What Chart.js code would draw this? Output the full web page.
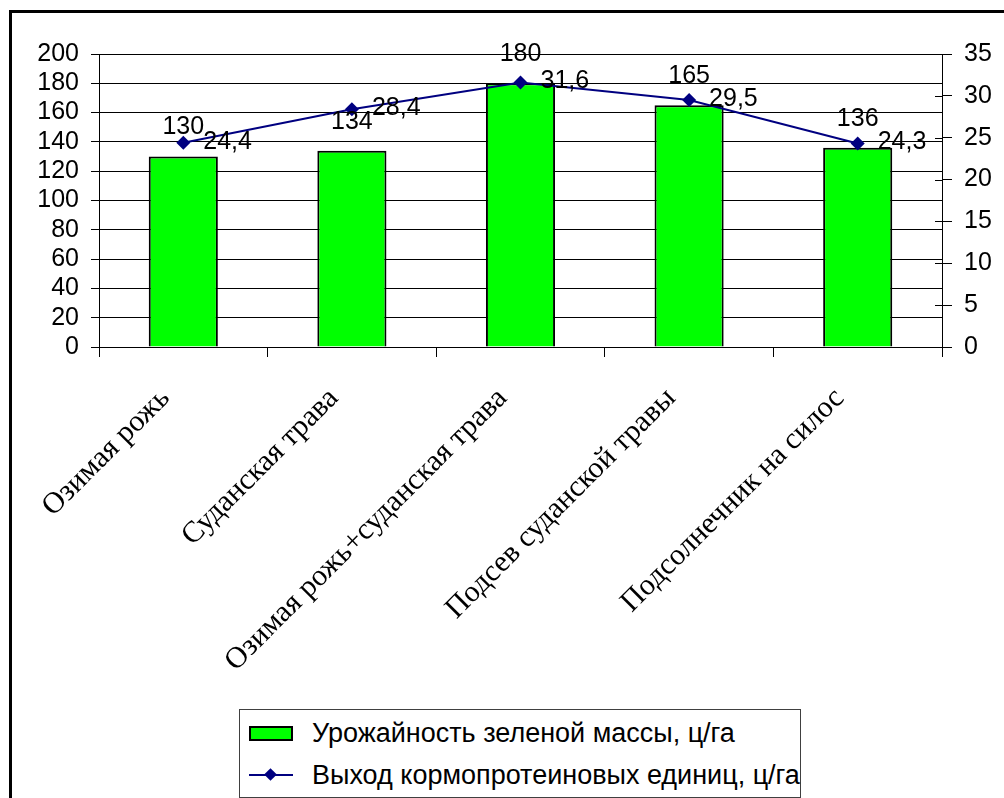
<!DOCTYPE html>
<html>
<head>
<meta charset="utf-8">
<script src="https://cdn.jsdelivr.net/npm/chart.js@4/dist/chart.umd.min.js"></script>
<style>
  html, body { margin: 0; padding: 0; background: #fff; width: 1004px; height: 798px; overflow: hidden; }
  #frame { position: absolute; left: 9px; top: 10px; width: 1100px; height: 900px; border: 3px solid #000; box-sizing: border-box; }
  #main-chart { position: absolute; left: 0; top: 0; }
  #legend { position: absolute; left: 239px; top: 709px; width: 562px; height: 89px; border: 1px solid #404040; box-sizing: border-box; background: #fff;
            font-family: 'Liberation Sans', Arial, sans-serif; font-size: 27px; color: #000; }
  .legend-item { position: absolute; left: 9px; display: flex; align-items: center; height: 30px; }
  .swatch-bar { width: 40px; height: 11px; background: #00ff00; border: 2px solid #000; }
  .swatch-line { position: relative; width: 44px; height: 2px; background: #000080; }
  .swatch-line::after { content: ''; position: absolute; left: 17px; top: -4px; width: 9px; height: 9px; background: #000080; transform: rotate(45deg); }
  .legend-text { margin-left: 19px; white-space: nowrap; }
</style>
</head>
<body>
<div id="frame"></div>
<canvas id="main-chart" width="1004" height="798"></canvas>
<div id="legend">
  <div class="legend-item" style="top:8px"><div class="swatch-bar"></div><span class="legend-text">Урожайность зеленой массы, ц/га</span></div>
  <div class="legend-item" style="top:50px"><div class="swatch-line"></div><span class="legend-text">Выход кормопротеиновых единиц, ц/га</span></div>
</div>
<script>
// Данные графика
const categories = [
  'Озимая рожь',
  'Суданская трава',
  'Озимая рожь+суданская трава',
  'Подсев суданской травы',
  'Подсолнечник на силос',
];
const yieldValues = [130, 134, 180, 165, 136];
const proteinValues = [24.4, 28.4, 31.6, 29.5, 24.3];
const yieldAxisMax = 200;
const proteinAxisMax = 35;

const sansFont = "'Liberation Sans', Arial, sans-serif";
const serifFont = "'Liberation Serif', 'Times New Roman', serif";

function formatComma(v) {
  return Number.isInteger(v) ? String(v) : v.toFixed(1).replace('.', ',');
}

// подписи значений + внутренние засечки правой оси
const valueLabels = {
  id: 'valueLabels',
  beforeDatasetsDraw(chart) {
    const y1 = chart.scales.y1;
    const ctx = chart.ctx;
    ctx.save();
    ctx.strokeStyle = '#000';
    ctx.lineWidth = 1;
    y1.ticks.forEach((t) => {
      const py = Math.round(y1.getPixelForValue(t.value)) + 0.5;
      ctx.beginPath();
      ctx.moveTo(y1.left - 7, py);
      ctx.lineTo(y1.left, py);
      ctx.stroke();
    });
    ctx.restore();
  },
  afterDatasetsDraw(chart) {
    const ctx = chart.ctx;
    ctx.save();
    ctx.font = `25px ${sansFont}`;
    ctx.fillStyle = '#000';
    ctx.textBaseline = 'middle';
    chart.getDatasetMeta(1).data.forEach((bar, i) => {
      ctx.textAlign = 'center';
      ctx.fillText(formatComma(yieldValues[i]), bar.x, bar.y - 29);
    });
    chart.getDatasetMeta(0).data.forEach((pt, i) => {
      ctx.textAlign = 'left';
      ctx.fillText(formatComma(proteinValues[i]), pt.x + 20, pt.y - 1);
    });
    ctx.restore();
  },
};

const ctx = document.getElementById('main-chart').getContext('2d');
new Chart(ctx, {
  type: 'bar',
  data: {
    labels: categories,
    datasets: [
      {
        type: 'line',
        label: 'Выход кормопротеиновых единиц, ц/га',
        data: proteinValues,
        yAxisID: 'y1',
        borderColor: '#000080',
        backgroundColor: '#000080',
        borderWidth: 2,
        pointStyle: 'rectRot',
        pointRadius: 7,
        pointBorderWidth: 0,
        tension: 0,
        order: 0,
      },
      {
        label: 'Урожайность зеленой массы, ц/га',
        data: yieldValues,
        yAxisID: 'y',
        backgroundColor: '#00ff00',
        borderColor: '#000',
        borderWidth: 2,
        borderSkipped: 'bottom',
        barPercentage: 0.41,
        categoryPercentage: 1,
        order: 1,
      },
    ],
  },
  options: {
    responsive: false,
    animation: false,
    layout: { padding: { top: 54, left: 0, right: 0, bottom: 0 } },
    plugins: { legend: { display: false }, tooltip: { enabled: false } },
    scales: {
      x: {
        offset: true,
        grid: { display: true, offset: true, drawOnChartArea: false, color: '#000', tickLength: 10 },
        border: { color: '#000', width: 1 },
        ticks: {
          color: '#000',
          font: { family: serifFont, size: 30 },
          minRotation: 45,
          maxRotation: 45,
          autoSkip: false,
          padding: 24,
          labelOffset: -18,
        },
        afterFit: (s) => { s.height = 451; },
      },
      y: {
        position: 'left',
        min: 0,
        max: yieldAxisMax,
        ticks: { stepSize: 20, autoSkip: false, color: '#000', font: { family: sansFont, size: 25 }, padding: 12 },
        grid: { color: '#000', lineWidth: 1, tickLength: 8 },
        border: { color: '#000', width: 1 },
        afterFit: (s) => { s.width = 99; },
      },
      y1: {
        position: 'right',
        min: 0,
        max: proteinAxisMax,
        ticks: { stepSize: 5, autoSkip: false, color: '#000', font: { family: sansFont, size: 25 }, padding: 12 },
        grid: { drawOnChartArea: false, color: '#000', tickLength: 10 },
        border: { color: '#000', width: 1 },
        afterFit: (s) => { s.width = 62; },
      },
    },
  },
  plugins: [valueLabels],
});
</script>
</body>
</html>
